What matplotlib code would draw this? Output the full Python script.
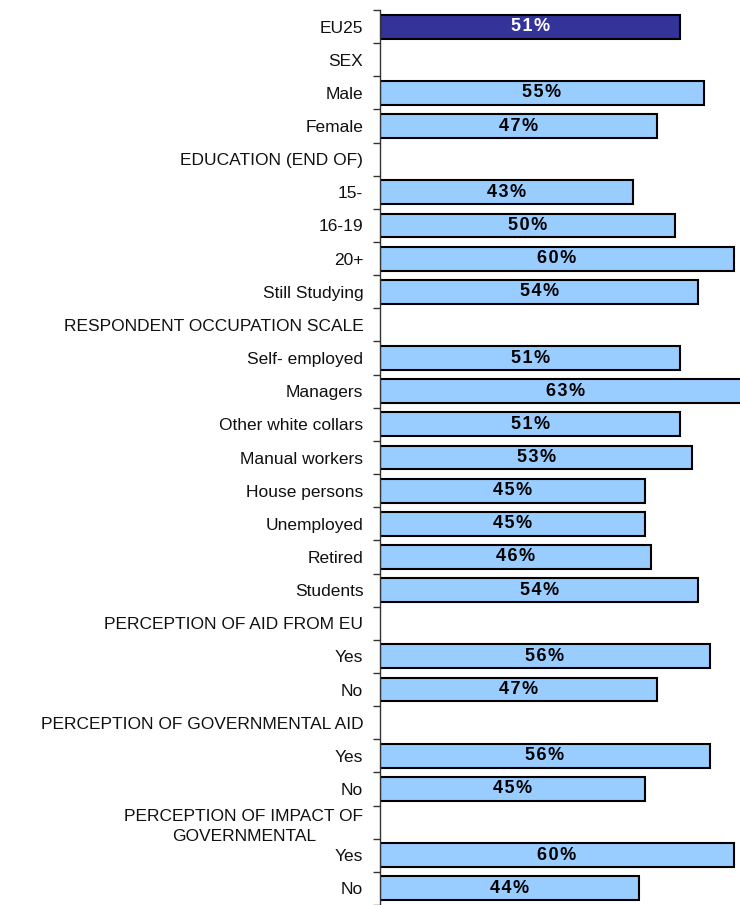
import matplotlib
matplotlib.use("Agg")
import matplotlib.pyplot as plt
import numpy as np

plt.rcParams["font.family"] = ["Liberation Sans", "DejaVu Sans"]

# row labels top to bottom; None values are section headers (no bar)
labels = [
    "EU25", "SEX", "Male", "Female", "EDUCATION (END OF)",
    "15-", "16-19", "20+", "Still Studying",
    "RESPONDENT OCCUPATION SCALE",
    "Self- employed", "Managers", "Other white collars", "Manual workers",
    "House persons", "Unemployed", "Retired", "Students",
    "PERCEPTION OF AID FROM EU", "Yes", "No",
    "PERCEPTION OF GOVERNMENTAL AID", "Yes", "No",
    "PERCEPTION OF IMPACT OF\nGOVERNMENTAL", "Yes", "No",
]
values = [
    51, None, 55, 47, None,
    43, 50, 60, 54,
    None,
    51, 63, 51, 53,
    45, 45, 46, 54,
    None, 56, 47,
    None, 56, 45,
    None, 60, 44,
]

DARK = "#333399"
LIGHT = "#99CCFF"
HAIR = "\u200a"

fig = plt.figure(figsize=(7.4, 9.05), dpi=100)
ax = fig.add_axes([380 / 740, 0.0, 1 - 380 / 740, 1 - 10 / 905])

n = len(labels)
ypos = np.arange(n)

for i, v in enumerate(values):
    if v is None:
        continue
    color = DARK if i == 0 else LIGHT
    ax.barh(i, v, height=0.72, color=color, edgecolor="black",
            linewidth=1.5, zorder=2)
    # spaced-out percentage text like the original
    txt = HAIR.join(f"{v}%")
    ax.text(v / 2, i, txt, ha="center", va="center",
            fontsize=13, fontweight="bold",
            color="white" if i == 0 else "black", zorder=3)

ax.set_xlim(0, 61.1)
ax.set_ylim(n - 0.5, -0.5)

# category labels
ax.set_yticks(ypos)
ax.set_yticklabels(labels, fontsize=12.5, color="#111111",
                   multialignment="center", linespacing=1.45)
ax.tick_params(axis="y", which="major", length=0, pad=12)

# small ticks at row boundaries
ax.set_yticks(np.arange(n + 1) - 0.5, minor=True)
ax.tick_params(axis="y", which="minor", length=5, width=1, color="#333333")

ax.xaxis.set_visible(False)
for side in ["top", "right", "bottom"]:
    ax.spines[side].set_visible(False)
ax.spines["left"].set_linewidth(1)
ax.spines["left"].set_color("#333333")

fig.savefig("out.png", dpi=100)
